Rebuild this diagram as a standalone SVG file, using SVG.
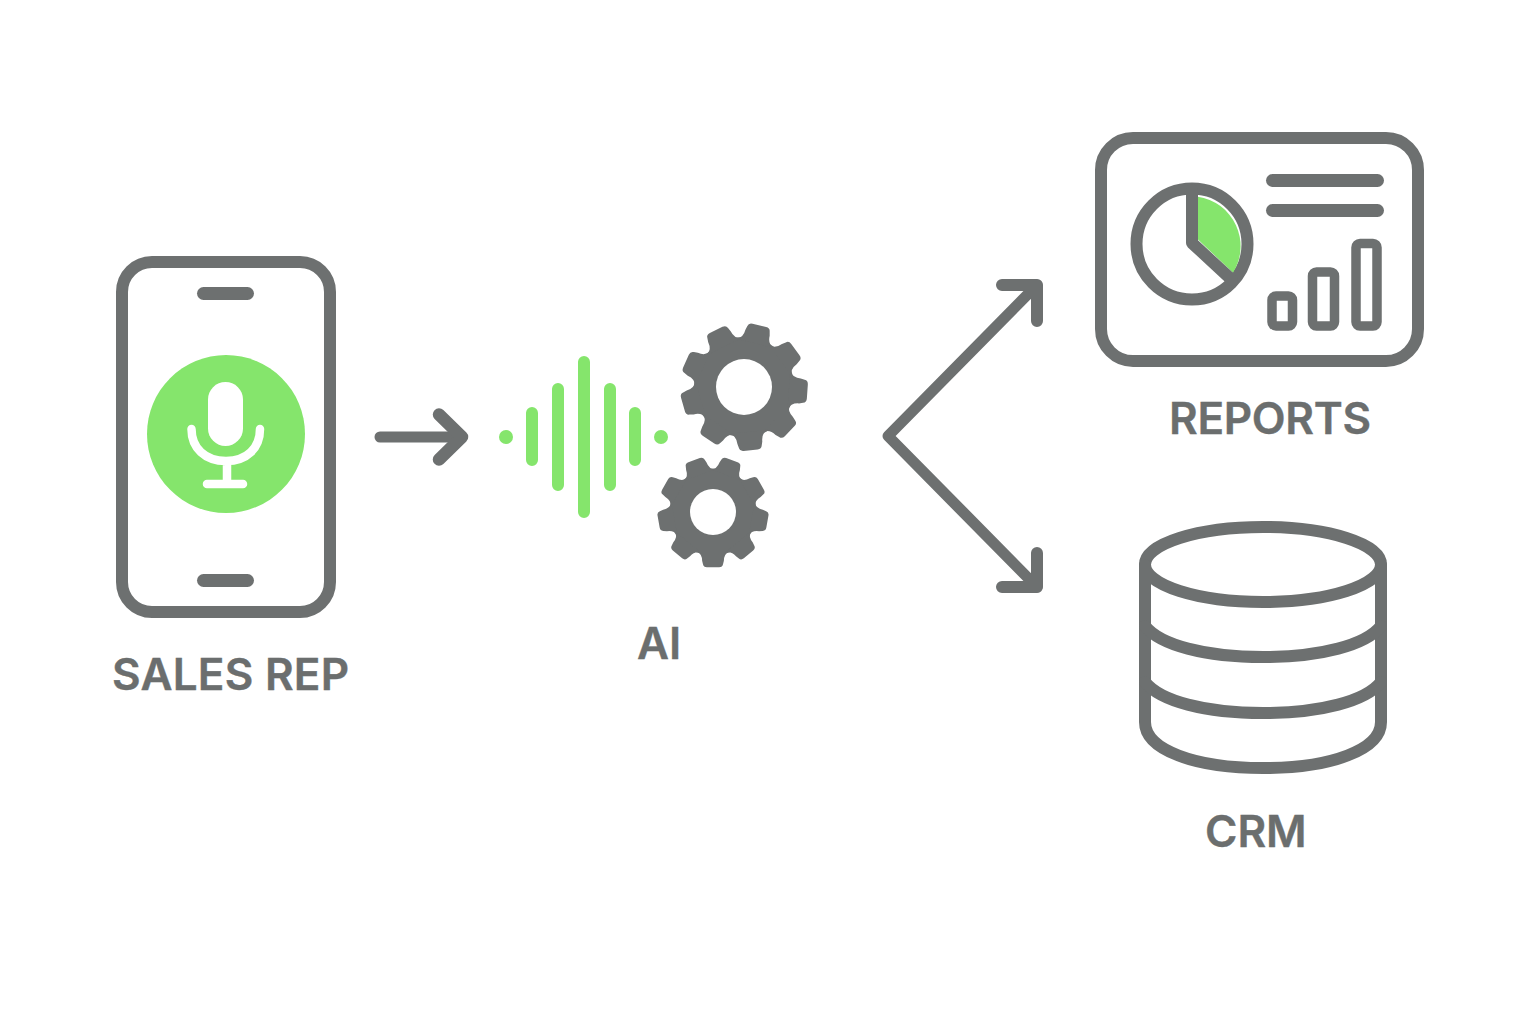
<svg xmlns="http://www.w3.org/2000/svg" width="1536" height="1024" viewBox="0 0 1536 1024">
<defs>
<style>
.l{fill:none;stroke:#6d7070;stroke-width:12;stroke-linecap:round;stroke-linejoin:round}
.d{stroke-width:11}
.h{stroke-width:12.500}
.b{stroke-width:9.500}
.g{fill:none;stroke:#85e56c;stroke-width:12;stroke-linecap:round}
.m{fill:none;stroke:#fff;stroke-width:8.500;stroke-linecap:round}
.t{font-family:"Inter","Liberation Sans",sans-serif;font-weight:600;fill:#6b6e6e;font-size:44px;stroke:#6b6e6e;stroke-width:.4}
.f{fill:#6d7070}
.p{fill:#6d7070}
</style>
<path id="tooth" d="M-19 -45Q-12.500 -48 -12.500 -56L-11.500 -60Q-11 -63.500 -7 -63.500L7 -63.500Q11 -63.500 11.500 -60L12.500 -56Q12.500 -48 19 -45Z"/>
</defs>
<rect width="1536" height="1024" fill="#fff"/>
<g id="connectors">
<path class="l d" d="M380 437H461"/>
<path class="l h" d="M439 414.500L462 437L439 459.500"/>
<path class="l d" d="M1037 285L888 436L1037 587"/>
<path class="l" d="M1002 285H1037V321M1002 587H1037V553"/>
</g>
<g id="sales-rep">
<rect class="l" x="122" y="262" width="208" height="350" rx="30"/>
<rect class="p" x="197" y="287" width="57" height="13" rx="6.500"/>
<rect class="p" x="197" y="574" width="57" height="13" rx="6.500"/>
<circle cx="226" cy="434" r="79" fill="#85e56c"/>
<rect x="208" y="382" width="35" height="64" rx="17.500" fill="#fff"/>
<path class="m" d="M191.500 429C191.500 448 205 461 226 461C247 461 260 448 260 429M227 461V484M207 484H243"/>
<text class="t" x="112" y="690" letter-spacing=".25">SALES REP</text>
</g>
<g id="ai">
<circle cx="506" cy="437" r="7" fill="#85e56c"/>
<circle cx="661" cy="437" r="7" fill="#85e56c"/>
<path class="g" d="M532 413V460M558 389V485M584 362V512M610 389V485M635 413V460"/>
<g class="f" transform="translate(744 387)">
<circle r="50"/>
<use href="#tooth" transform="rotate(14)"/><use href="#tooth" transform="rotate(54)"/><use href="#tooth" transform="rotate(94)"/><use href="#tooth" transform="rotate(134)"/><use href="#tooth" transform="rotate(174)"/><use href="#tooth" transform="rotate(214)"/><use href="#tooth" transform="rotate(254)"/><use href="#tooth" transform="rotate(294)"/><use href="#tooth" transform="rotate(334)"/>
<circle r="28" fill="#fff"/>
</g>
<g class="f" transform="translate(713 512)">
<g transform="scale(.87)">
<circle r="50"/>
<use href="#tooth" transform="rotate(20)"/><use href="#tooth" transform="rotate(60)"/><use href="#tooth" transform="rotate(100)"/><use href="#tooth" transform="rotate(140)"/><use href="#tooth" transform="rotate(180)"/><use href="#tooth" transform="rotate(220)"/><use href="#tooth" transform="rotate(260)"/><use href="#tooth" transform="rotate(300)"/><use href="#tooth" transform="rotate(340)"/>
</g>
<circle r="23" fill="#fff"/>
</g>
<text class="t" x="637" y="659">AI</text>
</g>
<g id="reports">
<rect class="l" x="1101" y="138" width="317" height="223" rx="32"/>
<circle class="l" cx="1192" cy="244" r="55.500"/>
<path d="M1197.700 196.700A50 50 0 0 1 1233 272.700L1197.700 239.300Z" fill="#85e56c"/>
<path class="l" d="M1192 190V243L1232 280"/>
<rect class="p" x="1266" y="174" width="118" height="13" rx="6.500"/>
<rect class="p" x="1266" y="204" width="118" height="13" rx="6.500"/>
<rect class="l b" x="1272" y="296" width="20.500" height="30" rx="4"/>
<rect class="l b" x="1312.500" y="272" width="22" height="54" rx="4"/>
<rect class="l b" x="1356" y="243.500" width="21" height="82.500" rx="4"/>
<text class="t" x="1169" y="434" letter-spacing="-.3">REPORTS</text>
</g>
<g id="crm">
<ellipse class="l" cx="1263" cy="564.500" rx="118" ry="37.500"/>
<path class="l" d="M1145 565V722C1145 750 1195 768 1263 768C1331 768 1381 750 1381 722V565"/>
<path class="l" d="M1145 626C1160 645 1205 657 1263 657C1321 657 1366 645 1381 626"/>
<path class="l" d="M1145 682C1160 701 1205 713 1263 713C1321 713 1366 701 1381 682"/>
<text class="t" x="1205" y="847">CRM</text>
</g>
</svg>
